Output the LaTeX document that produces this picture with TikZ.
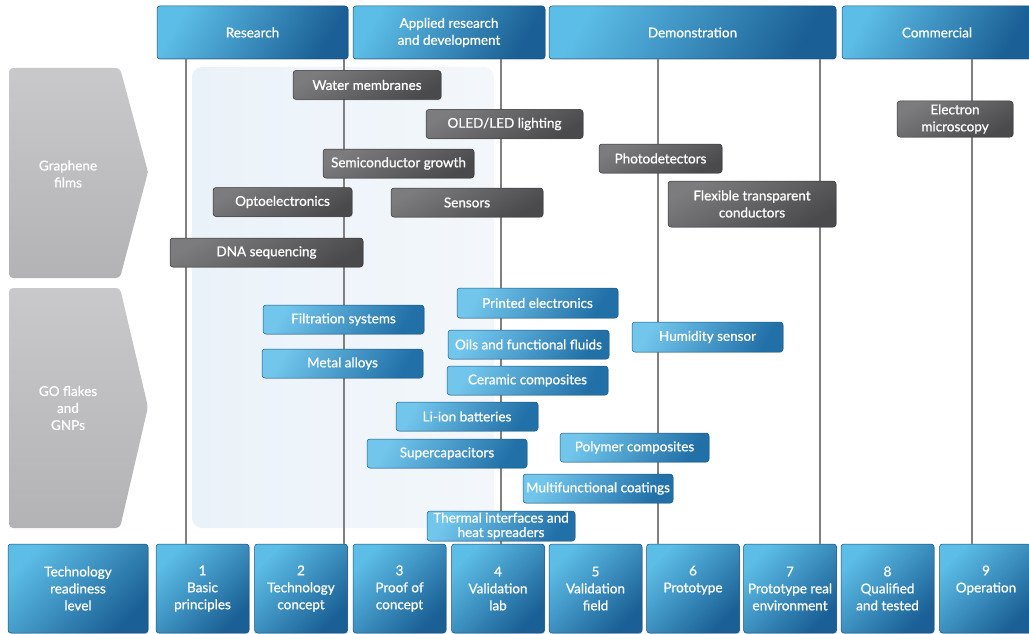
\documentclass[tikz,border=0pt]{standalone}
\usepackage{fontspec}
\setmainfont{Lato}[FakeBold=0.9]
\usetikzlibrary{shadows}

\definecolor{hdrL}{HTML}{5CBDE6}
\definecolor{hdrD}{HTML}{1A5F95}
\definecolor{itemL}{HTML}{72C6EC}
\definecolor{itemD}{HTML}{2170A8}
\definecolor{greyL}{HTML}{7C7C7E}
\definecolor{greyD}{HTML}{4A4A4C}
\definecolor{arrowL}{HTML}{C9C9CB}
\definecolor{arrowD}{HTML}{B3B3B5}
\definecolor{panelL}{HTML}{EAF2F9}
\definecolor{panelR}{HTML}{F3F7FB}
\definecolor{lineGrey}{HTML}{808080}

\tikzset{
  base/.style={rectangle, rounded corners=3pt, text=white, align=center,
    inner sep=2pt, font=\fontsize{13.5}{17}\selectfont},
  header/.style={base, minimum height=53pt, top color=hdrL, bottom color=hdrD,
    shading angle=60, draw=hdrD!80!black, line width=0.5pt,
    drop shadow={opacity=0.25, shadow xshift=0.8pt, shadow yshift=-0.8pt}},
  level/.style={header, minimum height=89pt, minimum width=93pt, shading angle=45},
  gitem/.style={base, minimum height=29pt, top color=greyL, bottom color=greyD,
    shading angle=30, draw=greyD!70!black, line width=0.5pt,
    drop shadow={opacity=0.25, shadow xshift=0.8pt, shadow yshift=-0.8pt}},
  bitem/.style={base, minimum height=29pt, top color=itemL, bottom color=itemD,
    shading angle=60, draw=itemD!80!black, line width=0.5pt,
    drop shadow={opacity=0.2, shadow xshift=0.8pt, shadow yshift=-0.8pt}},
  stageline/.style={draw=lineGrey, line width=1.1pt},
  sidelabel/.style={text=white, align=center, font=\fontsize{13.5}{17}\selectfont},
}
% empty third line for two-line level labels
\newcommand{\blankline}{\rule[-2pt]{0pt}{1pt}}

\begin{document}
\begin{tikzpicture}[x=1pt, y=-1pt]
\useasboundingbox (0,0) rectangle (1029,634);

% shaded research zone
\path[left color=panelL, right color=panelR, rounded corners=10pt]
  (192,67) rectangle (494,528);

% material categories
\path[top color=arrowL, bottom color=arrowD, rounded corners=4pt]
  (9,68) -- (120,68) -- (148,172) -- (120,278) -- (9,278) -- cycle;
\node[sidelabel] (films) at (68,174) {Graphene\\films};
\path[top color=arrowL, bottom color=arrowD, rounded corners=4pt]
  (9,288) -- (120,288) -- (148,407) -- (120,528) -- (9,528) -- cycle;
\node[sidelabel] (flakes) at (68,408) {GO flakes\\and\\GNPs};

% stage headers
\node[header, minimum width=191pt] (hRes) at (252.5,32.5) {Research};
\node[header, minimum width=192pt] (hApp) at (449,32.5) {Applied research\\and development};
\node[header, minimum width=287pt] (hDem) at (692.5,32.5) {Demonstration};
\node[header, minimum width=190pt] (hCom) at (937,32.5) {Commercial};

% technology readiness levels
\node[level, minimum width=140pt] (trl) at (78,588.5) {Technology\\readiness\\level};
\node[level] (n1) at (202.5,588.5) {1\\Basic\\principles};
\node[level] (n2) at (301,588.5) {2\\Technology\\concept};
\node[level] (n3) at (399.5,588.5) {3\\Proof of\\concept};
\node[level] (n4) at (498,588.5) {4\\Validation\\lab};
\node[level] (n5) at (595.5,588.5) {5\\Validation\\field};
\node[level] (n6) at (693,588.5) {6\\Prototype\\\blankline};
\node[level] (n7) at (790,588.5) {7\\Prototype real\\environment};
\node[level] (n8) at (887.5,588.5) {8\\Qualified\\and tested};
\node[level] (n9) at (986,588.5) {9\\Operation\\\blankline};

% guide lines from stages to levels
\coordinate (x1) at (186,0);
\coordinate (x2) at (344,0);
\coordinate (x3) at (501,0);
\coordinate (x4) at (658,0);
\coordinate (x5) at (820,0);
\coordinate (x6) at (972,0);
\draw[stageline] (x1 |- hRes.south) -- (x1 |- n1.north);
\draw[stageline] (x2 |- hRes.south) -- (x2 |- n2.north);
\draw[stageline] (x3 |- hApp.south) -- (x3 |- n4.north);
\draw[stageline] (x4 |- hDem.south) -- (x4 |- n6.north);
\draw[stageline] (x5 |- hDem.south) -- (x5 |- n7.north);
\draw[stageline] (x6 |- hCom.south) -- (x6 |- n9.north);

% graphene film applications
\node[gitem, minimum width=148pt] (wm) at (367,85) {Water membranes};
\node[gitem, minimum width=157pt] (oled) at (504.5,124) {OLED/LED lighting};
\node[gitem, minimum width=151pt] (semi) at (398.5,163.5) {Semiconductor growth};
\node[gitem, minimum width=123pt] (photo) at (660.5,158.5) {Photodetectors};
\node[gitem, minimum width=139pt] (opto) at (282.5,202) {Optoelectronics};
\node[gitem, minimum width=152pt] (sens) at (467,202.5) {Sensors};
\node[gitem, minimum width=168pt, minimum height=46pt] (flex) at (752,204) {Flexible transparent\\conductors};
\node[gitem, minimum width=193pt] (dna) at (266.5,252.5) {DNA sequencing};
\node[gitem, minimum width=116pt, minimum height=36pt, inner sep=1pt] (em) at (955,119) {Electron\\microscopy};

% flake and platelet applications
\node[bitem, minimum width=161pt, minimum height=30pt] (print) at (537.5,303) {Printed electronics};
\node[bitem, minimum width=161pt] (filt) at (343.5,319.5) {Filtration systems};
\node[bitem, minimum width=151pt, minimum height=30pt] (hum) at (707.5,337) {Humidity sensor};
\node[bitem, minimum width=161pt] (oils) at (528.5,344.5) {Oils and functional fluids};
\node[bitem, minimum width=161pt] (metal) at (342.5,363.5) {Metal alloys};
\node[bitem, minimum width=161pt] (cer) at (527.5,380.5) {Ceramic composites};
\node[bitem, minimum width=142pt] (li) at (467,416.5) {Li-ion batteries};
\node[bitem, minimum width=160pt] (sup) at (447,453.5) {Supercapacitors};
\node[bitem, minimum width=149pt] (poly) at (634.5,447.5) {Polymer composites};
\node[bitem, minimum width=150pt] (multi) at (598,488.5) {Multifunctional coatings};
\node[bitem, minimum width=148pt, minimum height=30pt, inner sep=0.5pt,
  font=\fontsize{13.5}{14.5}\selectfont] (therm) at (501,526) {Thermal interfaces and\\heat spreaders};
\end{tikzpicture}
\end{document}
